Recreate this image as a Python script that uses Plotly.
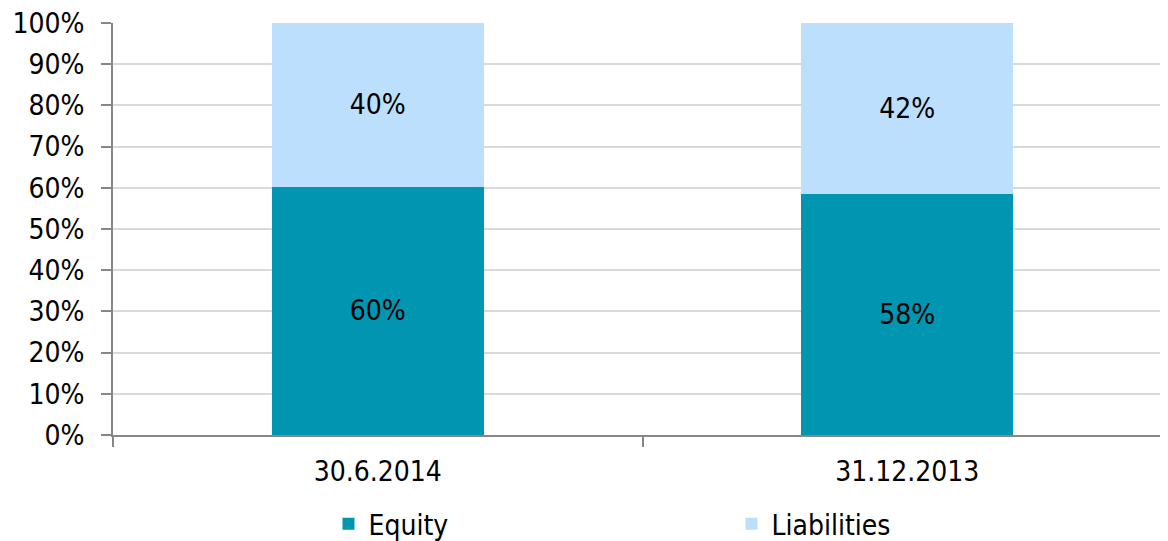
import plotly.graph_objects as go

categories = ["30.6.2014", "31.12.2013"]
equity = [60.2, 58.4]
liabilities = [39.8, 41.6]
equity_labels = ["60%", "58%"]
liabilities_labels = ["40%", "42%"]
y_ticks = [0, 10, 20, 30, 40, 50, 60, 70, 80, 90, 100]
y_tick_labels = [f"{v}%" for v in y_ticks]

FONT = "DejaVu Sans Condensed, DejaVu Sans"
FS = 28
EQ_COLOR = "#0096B1"
LI_COLOR = "#BBDFFC"

fig = go.Figure()
fig.add_trace(go.Bar(
    x=categories, y=equity, name="Equity", marker=dict(color=EQ_COLOR, line=dict(width=0)),
    text=equity_labels, textposition="inside", insidetextanchor="middle",
    textfont=dict(color="black", size=FS, family=FONT), constraintext="none",
    hoverinfo="skip", legend="legend", showlegend=True,
))
fig.add_trace(go.Bar(
    x=categories, y=liabilities, name="Liabilities", marker=dict(color=LI_COLOR, line=dict(width=0)),
    text=liabilities_labels, textposition="inside", insidetextanchor="middle",
    textfont=dict(color="black", size=FS, family=FONT), constraintext="none",
    hoverinfo="skip", legend="legend2", showlegend=True,
))

legend_common = dict(
    orientation="h", xanchor="left", yanchor="middle", y=-0.216,
    font=dict(family=FONT, size=FS, color="black"),
    bgcolor="rgba(0,0,0,0)", borderwidth=0, visible=True,
)

# the page body adds an 8px offset, so the figure is sized to the visible area
fig.update_layout(
    barmode="stack",
    bargap=0.6,
    width=1164, height=533,
    showlegend=True,
    margin=dict(l=105, r=0, t=15, b=106, autoexpand=False),
    paper_bgcolor="white", plot_bgcolor="white",
    font=dict(family=FONT, size=FS, color="black"),
    legend=dict(x=0.2035, **legend_common),
    legend2=dict(x=0.584, **legend_common),
    xaxis=dict(
        showline=True, linecolor="#878787", linewidth=2,
        ticks="outside", tickson="boundaries", ticklen=10, tickcolor="#878787", tickwidth=2,
        showgrid=False, tickfont=dict(size=FS, family=FONT, color="black"),
        ticklabelstandoff=10, automargin=False,
    ),
    yaxis=dict(
        range=[0, 100], tickvals=y_ticks, ticktext=y_tick_labels,
        showline=True, linecolor="#878787", linewidth=2,
        ticks="outside", ticklen=10, tickcolor="#878787", tickwidth=2,
        showgrid=True, gridcolor="#D9D9D9", gridwidth=2, zeroline=False,
        tickfont=dict(size=FS, family=FONT, color="black"),
        ticklabelstandoff=11, automargin=False, ticklabeloverflow="allow",
    ),
)

fig.write_html("out.html")
